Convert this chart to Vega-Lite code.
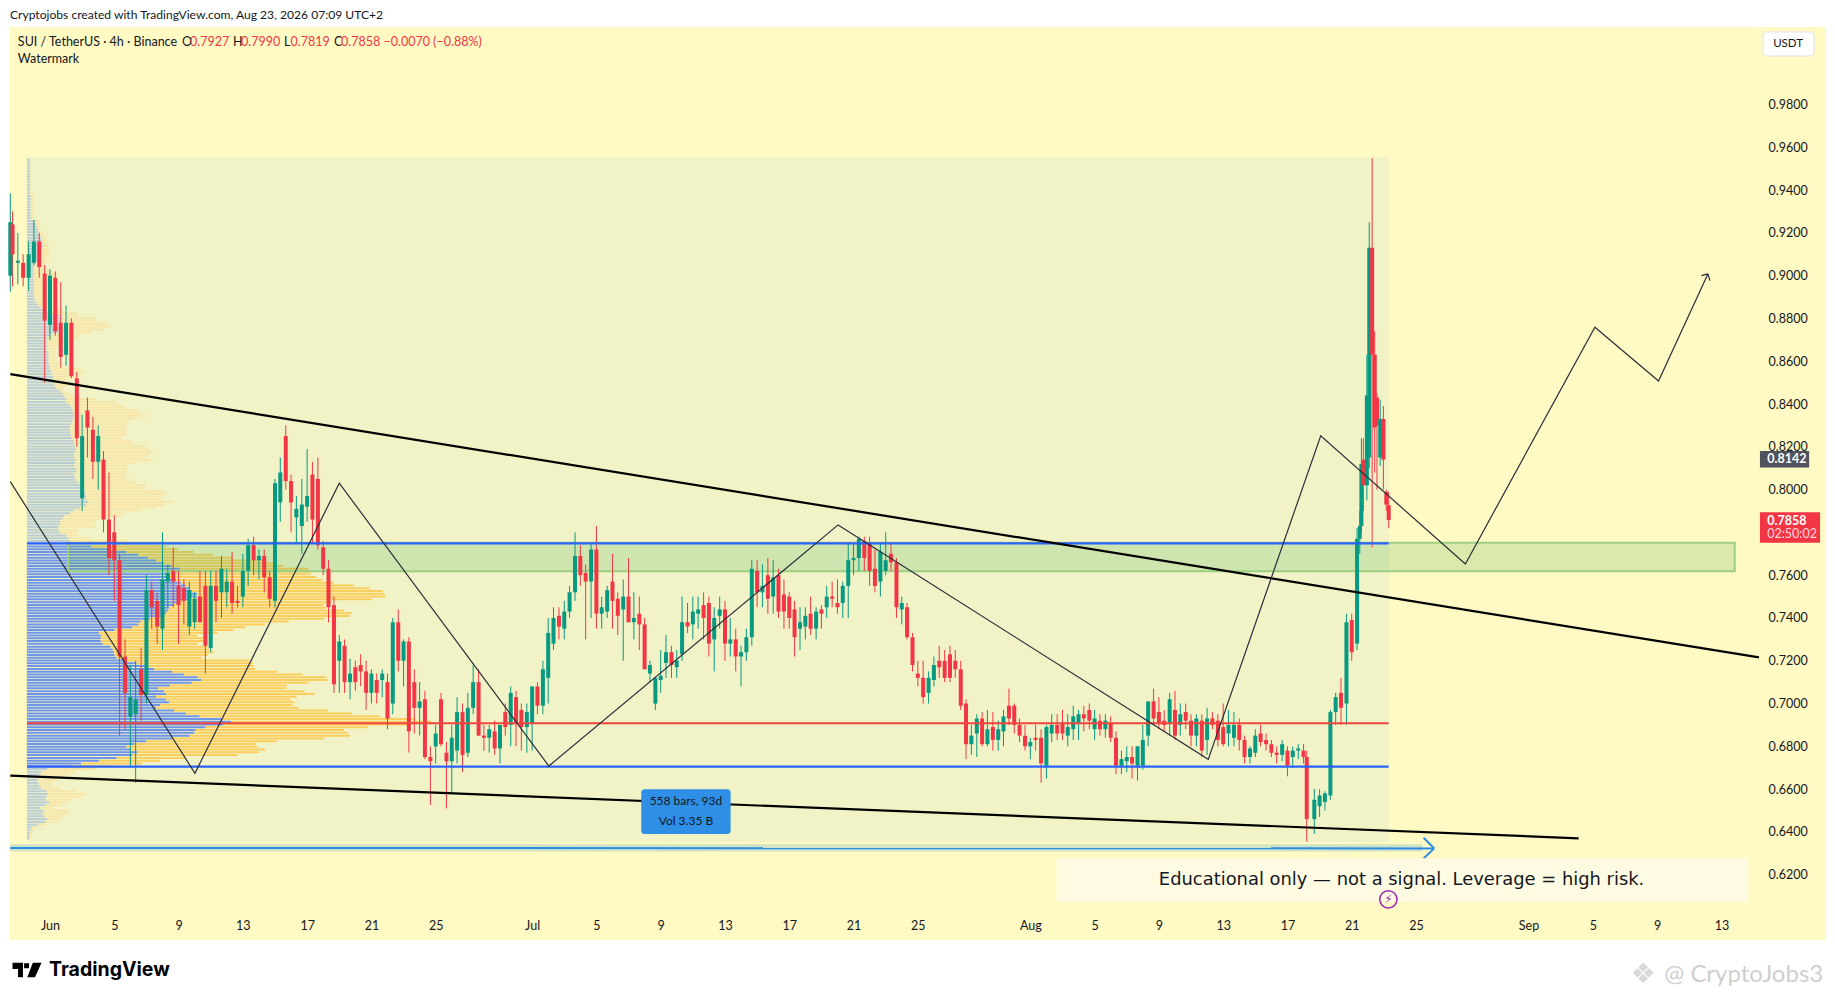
{
"$schema":"https://vega.github.io/schema/vega-lite/v6.json",
"width":1835,"height":1000,"padding":0,"autosize":{"type":"none"},"background":"#ffffff",
"config":{"view":{"stroke":null},"text":{"font":"Lato"}},
"datasets":{
"candles":[
{"d":-2.47,"o":0.9,"h":0.9385,"l":0.8925,"c":0.925},{"d":-2.33,"o":0.924,"h":0.93,"l":0.895,"c":0.91},{"d":-2,"o":0.906,"h":0.92,"l":0.896,"c":0.907},{"d":-1.67,"o":0.906,"h":0.91,"l":0.895,"c":0.899},{"d":-1.33,"o":0.899,"h":0.916,"l":0.893,"c":0.91},{"d":-1,"o":0.906,"h":0.926,"l":0.905,"c":0.916},{"d":-0.67,"o":0.916,"h":0.92,"l":0.899,"c":0.904},{"d":-0.33,"o":0.901,"h":0.905,"l":0.85,"c":0.879},{"d":0,"o":0.877,"h":0.903,"l":0.87,"c":0.9},{"d":0.33,"o":0.899,"h":0.902,"l":0.872,"c":0.874},{"d":0.67,"o":0.878,"h":0.897,"l":0.857,"c":0.862},{"d":1,"o":0.863,"h":0.886,"l":0.858,"c":0.878},{"d":1.33,"o":0.878,"h":0.88,"l":0.852,"c":0.853},{"d":1.67,"o":0.852,"h":0.855,"l":0.82,"c":0.824},
{"d":2,"o":0.796,"h":0.835,"l":0.79,"c":0.825},{"d":2.33,"o":0.837,"h":0.843,"l":0.815,"c":0.829},{"d":2.67,"o":0.828,"h":0.834,"l":0.805,"c":0.813},{"d":3,"o":0.813,"h":0.83,"l":0.8,"c":0.825},{"d":3.33,"o":0.814,"h":0.818,"l":0.78,"c":0.786},{"d":3.67,"o":0.786,"h":0.808,"l":0.76,"c":0.768},{"d":4,"o":0.78,"h":0.788,"l":0.748,"c":0.767},{"d":4.33,"o":0.767,"h":0.77,"l":0.685,"c":0.722},{"d":4.67,"o":0.722,"h":0.73,"l":0.688,"c":0.705},{"d":5,"o":0.694,"h":0.718,"l":0.67,"c":0.703},{"d":5.33,"o":0.695,"h":0.72,"l":0.663,"c":0.702},{"d":5.67,"o":0.716,"h":0.726,"l":0.692,"c":0.704},{"d":6,"o":0.704,"h":0.76,"l":0.7,"c":0.753},{"d":6.33,"o":0.753,"h":0.757,"l":0.735,"c":0.745},{"d":6.67,"o":0.748,"h":0.752,"l":0.728,"c":0.736},{"d":7,"o":0.735,"h":0.78,"l":0.725,"c":0.758},{"d":7.33,"o":0.757,"h":0.765,"l":0.745,"c":0.761},{"d":7.67,"o":0.762,"h":0.773,"l":0.745,"c":0.757},{"d":8,"o":0.755,"h":0.762,"l":0.728,"c":0.746},{"d":8.33,"o":0.754,"h":0.758,"l":0.737,"c":0.748},{"d":8.67,"o":0.736,"h":0.757,"l":0.732,"c":0.753},{"d":9,"o":0.738,"h":0.752,"l":0.735,"c":0.749},{"d":9.33,"o":0.75,"h":0.762,"l":0.738,"c":0.738},{"d":9.67,"o":0.755,"h":0.762,"l":0.714,"c":0.727},{"d":10,"o":0.726,"h":0.762,"l":0.724,"c":0.755},{"d":10.33,"o":0.755,"h":0.762,"l":0.738,"c":0.748},{"d":10.67,"o":0.752,"h":0.769,"l":0.74,"c":0.763},{"d":11,"o":0.752,"h":0.763,"l":0.745,"c":0.757},{"d":11.33,"o":0.757,"h":0.771,"l":0.742,"c":0.747},{"d":11.67,"o":0.748,"h":0.755,"l":0.745,"c":0.747},{"d":12,"o":0.75,"h":0.77,"l":0.745,"c":0.762},{"d":12.33,"o":0.762,"h":0.777,"l":0.755,"c":0.774},{"d":12.67,"o":0.774,"h":0.778,"l":0.76,"c":0.767},{"d":13,"o":0.767,"h":0.772,"l":0.758,"c":0.769},{"d":13.33,"o":0.769,"h":0.772,"l":0.752,"c":0.759},{"d":13.67,"o":0.759,"h":0.762,"l":0.745,"c":0.749},{"d":14,"o":0.748,"h":0.805,"l":0.745,"c":0.803},{"d":14.33,"o":0.794,"h":0.815,"l":0.785,"c":0.808},{"d":14.67,"o":0.825,"h":0.83,"l":0.8,"c":0.804},{"d":15,"o":0.804,"h":0.807,"l":0.78,"c":0.794},{"d":15.33,"o":0.787,"h":0.797,"l":0.775,"c":0.791},{"d":15.67,"o":0.783,"h":0.805,"l":0.77,"c":0.793},{"d":16,"o":0.792,"h":0.819,"l":0.785,"c":0.797},{"d":16.33,"o":0.807,"h":0.813,"l":0.775,"c":0.786},{"d":16.67,"o":0.805,"h":0.815,"l":0.772,"c":0.774},{"d":17,"o":0.773,"h":0.776,"l":0.76,"c":0.763},{"d":17.33,"o":0.763,"h":0.767,"l":0.738,"c":0.745},{"d":17.67,"o":0.746,"h":0.75,"l":0.705,"c":0.709},{"d":18,"o":0.72,"h":0.732,"l":0.705,"c":0.729},{"d":18.33,"o":0.727,"h":0.73,"l":0.705,"c":0.71},{"d":18.67,"o":0.71,"h":0.721,"l":0.702,"c":0.714},{"d":19,"o":0.717,"h":0.72,"l":0.706,"c":0.71},{"d":19.33,"o":0.718,"h":0.723,"l":0.708,"c":0.715},{"d":19.67,"o":0.715,"h":0.72,"l":0.697,"c":0.705},{"d":20,"o":0.705,"h":0.716,"l":0.7,"c":0.714},{"d":20.33,"o":0.711,"h":0.714,"l":0.7,"c":0.705},{"d":20.67,"o":0.711,"h":0.716,"l":0.703,"c":0.714},{"d":21,"o":0.71,"h":0.714,"l":0.688,"c":0.693},{"d":21.33,"o":0.7,"h":0.74,"l":0.695,"c":0.738},{"d":21.67,"o":0.738,"h":0.744,"l":0.715,"c":0.72},{"d":22,"o":0.72,"h":0.73,"l":0.708,"c":0.729},{"d":22.33,"o":0.729,"h":0.731,"l":0.677,"c":0.687},{"d":22.67,"o":0.71,"h":0.716,"l":0.686,"c":0.698},{"d":23,"o":0.698,"h":0.71,"l":0.685,"c":0.701},{"d":23.33,"o":0.702,"h":0.706,"l":0.674,"c":0.675},{"d":23.67,"o":0.675,"h":0.68,"l":0.6526,"c":0.673},{"d":24,"o":0.68,"h":0.69,"l":0.672,"c":0.686},{"d":24.33,"o":0.702,"h":0.705,"l":0.68,"c":0.681},{"d":24.67,"o":0.677,"h":0.682,"l":0.651,"c":0.673},{"d":25,"o":0.673,"h":0.69,"l":0.658,"c":0.684},{"d":25.33,"o":0.678,"h":0.703,"l":0.672,"c":0.696},{"d":25.67,"o":0.696,"h":0.7,"l":0.668,"c":0.676},{"d":26,"o":0.677,"h":0.705,"l":0.675,"c":0.698},{"d":26.33,"o":0.698,"h":0.718,"l":0.695,"c":0.71},{"d":26.67,"o":0.71,"h":0.716,"l":0.685,"c":0.685},{"d":27,"o":0.685,"h":0.69,"l":0.678,"c":0.684},{"d":27.33,"o":0.684,"h":0.69,"l":0.677,"c":0.688},{"d":27.67,"o":0.687,"h":0.692,"l":0.676,"c":0.679},{"d":28,"o":0.679,"h":0.69,"l":0.672,"c":0.69},{"d":28.33,"o":0.696,"h":0.7,"l":0.685,"c":0.689},{"d":28.67,"o":0.69,"h":0.708,"l":0.68,"c":0.705},{"d":29,"o":0.703,"h":0.706,"l":0.68,"c":0.691},{"d":29.33,"o":0.697,"h":0.7,"l":0.678,"c":0.689},{"d":29.67,"o":0.689,"h":0.7,"l":0.677,"c":0.696},{"d":30,"o":0.691,"h":0.708,"l":0.678,"c":0.708},{"d":30.33,"o":0.708,"h":0.71,"l":0.695,"c":0.699},{"d":30.67,"o":0.699,"h":0.72,"l":0.695,"c":0.716},{"d":31,"o":0.712,"h":0.74,"l":0.7,"c":0.733},{"d":31.33,"o":0.728,"h":0.745,"l":0.725,"c":0.74},{"d":31.67,"o":0.741,"h":0.745,"l":0.73,"c":0.736},{"d":32,"o":0.735,"h":0.748,"l":0.73,"c":0.743},{"d":32.33,"o":0.743,"h":0.755,"l":0.74,"c":0.752},{"d":32.67,"o":0.752,"h":0.78,"l":0.748,"c":0.769},{"d":33,"o":0.769,"h":0.774,"l":0.755,"c":0.76},{"d":33.33,"o":0.761,"h":0.765,"l":0.73,"c":0.757},{"d":33.67,"o":0.757,"h":0.775,"l":0.74,"c":0.772},{"d":34,"o":0.772,"h":0.783,"l":0.735,"c":0.742},{"d":34.33,"o":0.742,"h":0.75,"l":0.735,"c":0.745},{"d":34.67,"o":0.743,"h":0.755,"l":0.74,"c":0.753},{"d":35,"o":0.757,"h":0.77,"l":0.735,"c":0.748},{"d":35.33,"o":0.749,"h":0.752,"l":0.732,"c":0.741},
{"d":35.67,"o":0.744,"h":0.758,"l":0.72,"c":0.75},{"d":36,"o":0.75,"h":0.768,"l":0.738,"c":0.738},{"d":36.33,"o":0.738,"h":0.752,"l":0.73,"c":0.74},{"d":36.67,"o":0.742,"h":0.75,"l":0.725,"c":0.737},{"d":37,"o":0.737,"h":0.74,"l":0.716,"c":0.716},{"d":37.33,"o":0.714,"h":0.72,"l":0.71,"c":0.718},{"d":37.67,"o":0.7,"h":0.712,"l":0.697,"c":0.712},{"d":38,"o":0.711,"h":0.725,"l":0.705,"c":0.713},{"d":38.33,"o":0.719,"h":0.732,"l":0.712,"c":0.724},{"d":38.67,"o":0.724,"h":0.727,"l":0.712,"c":0.718},{"d":39,"o":0.717,"h":0.725,"l":0.712,"c":0.72},{"d":39.33,"o":0.723,"h":0.75,"l":0.72,"c":0.738},{"d":39.67,"o":0.738,"h":0.747,"l":0.733,"c":0.736},{"d":40,"o":0.737,"h":0.75,"l":0.73,"c":0.743},{"d":40.33,"o":0.742,"h":0.75,"l":0.735,"c":0.744},{"d":40.67,"o":0.746,"h":0.752,"l":0.73,"c":0.74},{"d":41,"o":0.747,"h":0.75,"l":0.722,"c":0.728},{"d":41.33,"o":0.73,"h":0.745,"l":0.715,"c":0.74},{"d":41.67,"o":0.741,"h":0.75,"l":0.735,"c":0.744},{"d":42,"o":0.744,"h":0.748,"l":0.72,"c":0.728},{"d":42.33,"o":0.728,"h":0.74,"l":0.722,"c":0.73},{"d":42.67,"o":0.73,"h":0.735,"l":0.715,"c":0.722},{"d":43,"o":0.722,"h":0.727,"l":0.708,"c":0.724},{"d":43.33,"o":0.724,"h":0.735,"l":0.72,"c":0.731},{"d":43.67,"o":0.731,"h":0.767,"l":0.727,"c":0.763},{"d":44,"o":0.762,"h":0.767,"l":0.745,"c":0.752},{"d":44.33,"o":0.752,"h":0.765,"l":0.745,"c":0.755},{"d":44.67,"o":0.76,"h":0.768,"l":0.742,"c":0.749},{"d":45,"o":0.75,"h":0.767,"l":0.742,"c":0.759},{"d":45.33,"o":0.76,"h":0.763,"l":0.74,"c":0.743},{"d":45.67,"o":0.751,"h":0.758,"l":0.735,"c":0.743},{"d":46,"o":0.75,"h":0.752,"l":0.735,"c":0.74},{"d":46.33,"o":0.744,"h":0.748,"l":0.722,"c":0.731},{"d":46.67,"o":0.735,"h":0.745,"l":0.725,"c":0.738},{"d":47,"o":0.736,"h":0.745,"l":0.73,"c":0.741},{"d":47.33,"o":0.742,"h":0.75,"l":0.732,"c":0.735},{"d":47.67,"o":0.735,"h":0.745,"l":0.73,"c":0.743},{"d":48,"o":0.744,"h":0.746,"l":0.735,"c":0.742},{"d":48.33,"o":0.745,"h":0.755,"l":0.74,"c":0.75},{"d":48.67,"o":0.75,"h":0.757,"l":0.745,"c":0.749},{"d":49,"o":0.747,"h":0.758,"l":0.742,"c":0.745},{"d":49.33,"o":0.747,"h":0.757,"l":0.74,"c":0.755},{"d":49.67,"o":0.755,"h":0.775,"l":0.74,"c":0.767},{"d":50,"o":0.767,"h":0.775,"l":0.76,"c":0.768},{"d":50.33,"o":0.768,"h":0.778,"l":0.762,"c":0.777},{"d":50.67,"o":0.776,"h":0.778,"l":0.762,"c":0.768},{"d":51,"o":0.775,"h":0.778,"l":0.755,"c":0.762},{"d":51.33,"o":0.763,"h":0.772,"l":0.752,"c":0.755},{"d":51.67,"o":0.757,"h":0.775,"l":0.75,"c":0.771},{"d":52,"o":0.762,"h":0.78,"l":0.76,"c":0.767},{"d":52.33,"o":0.77,"h":0.775,"l":0.762,"c":0.766},{"d":52.67,"o":0.766,"h":0.768,"l":0.74,"c":0.745},{"d":53,"o":0.744,"h":0.75,"l":0.737,"c":0.747},{"d":53.33,"o":0.745,"h":0.747,"l":0.73,"c":0.731},{"d":53.67,"o":0.731,"h":0.733,"l":0.715,"c":0.718},{"d":54,"o":0.714,"h":0.72,"l":0.708,"c":0.712},{"d":54.33,"o":0.712,"h":0.72,"l":0.7,"c":0.703},{"d":54.67,"o":0.705,"h":0.715,"l":0.7,"c":0.712},{"d":55,"o":0.711,"h":0.722,"l":0.708,"c":0.718},{"d":55.33,"o":0.72,"h":0.727,"l":0.712,"c":0.717},{"d":55.67,"o":0.72,"h":0.725,"l":0.71,"c":0.712},{"d":56,"o":0.723,"h":0.727,"l":0.71,"c":0.712},{"d":56.33,"o":0.72,"h":0.725,"l":0.712,"c":0.716},{"d":56.67,"o":0.716,"h":0.72,"l":0.697,"c":0.699},{"d":57,"o":0.7,"h":0.702,"l":0.674,"c":0.681},{"d":57.33,"o":0.681,"h":0.69,"l":0.676,"c":0.685},{"d":57.67,"o":0.686,"h":0.695,"l":0.675,"c":0.693},{"d":58,"o":0.693,"h":0.696,"l":0.68,"c":0.681},{"d":58.33,"o":0.681,"h":0.697,"l":0.68,"c":0.688},{"d":58.67,"o":0.689,"h":0.696,"l":0.678,"c":0.683},{"d":59,"o":0.683,"h":0.692,"l":0.678,"c":0.688},{"d":59.33,"o":0.687,"h":0.697,"l":0.68,"c":0.694},{"d":59.67,"o":0.699,"h":0.707,"l":0.69,"c":0.693},{"d":60,"o":0.699,"h":0.7,"l":0.686,"c":0.69},{"d":60.33,"o":0.69,"h":0.693,"l":0.682,"c":0.685},{"d":60.67,"o":0.685,"h":0.69,"l":0.678,"c":0.68},{"d":61,"o":0.68,"h":0.684,"l":0.674,"c":0.682},{"d":61.33,"o":0.684,"h":0.69,"l":0.678,"c":0.683},{"d":61.67,"o":0.684,"h":0.688,"l":0.663,"c":0.672},{"d":62,"o":0.671,"h":0.69,"l":0.665,"c":0.689},{"d":62.33,"o":0.686,"h":0.695,"l":0.682,"c":0.69},{"d":62.67,"o":0.69,"h":0.695,"l":0.683,"c":0.686},{"d":63,"o":0.691,"h":0.697,"l":0.683,"c":0.686},{"d":63.33,"o":0.685,"h":0.695,"l":0.68,"c":0.689},{"d":63.67,"o":0.688,"h":0.699,"l":0.683,"c":0.694},{"d":64,"o":0.691,"h":0.697,"l":0.683,"c":0.695},{"d":64.33,"o":0.695,"h":0.699,"l":0.687,"c":0.693},{"d":64.67,"o":0.697,"h":0.7,"l":0.688,"c":0.692},{"d":65,"o":0.688,"h":0.697,"l":0.683,"c":0.693},{"d":65.33,"o":0.692,"h":0.695,"l":0.685,"c":0.688},{"d":65.67,"o":0.688,"h":0.695,"l":0.684,"c":0.692},{"d":66,"o":0.691,"h":0.694,"l":0.682,"c":0.684},{"d":66.33,"o":0.684,"h":0.687,"l":0.667,"c":0.671},{"d":66.67,"o":0.671,"h":0.678,"l":0.667,"c":0.674},{"d":67,"o":0.673,"h":0.68,"l":0.668,"c":0.675},{"d":67.33,"o":0.675,"h":0.68,"l":0.665,"c":0.672},{"d":67.67,"o":0.671,"h":0.68,"l":0.664,"c":0.68},{"d":68,"o":0.671,"h":0.69,"l":0.669,"c":0.683},{"d":68.33,"o":0.685,"h":0.7,"l":0.68,"c":0.701},{"d":68.67,"o":0.701,"h":0.707,"l":0.69,"c":0.693},{"d":69,"o":0.696,"h":0.703,"l":0.688,"c":0.691},{"d":69.33,"o":0.692,"h":0.697,"l":0.687,"c":0.69},{"d":69.67,"o":0.691,"h":0.705,"l":0.685,"c":0.702},{"d":70,"o":0.697,"h":0.706,"l":0.683,"c":0.685},{"d":70.33,"o":0.69,"h":0.7,"l":0.685,"c":0.695},{"d":70.67,"o":0.696,"h":0.7,"l":0.688,"c":0.692},{"d":71,"o":0.692,"h":0.695,"l":0.68,"c":0.685},{"d":71.33,"o":0.685,"h":0.695,"l":0.68,"c":0.693},{"d":71.67,"o":0.692,"h":0.695,"l":0.675,"c":0.678},{"d":72,"o":0.683,"h":0.698,"l":0.676,"c":0.693},{"d":72.33,"o":0.693,"h":0.696,"l":0.688,"c":0.69},{"d":72.67,"o":0.692,"h":0.695,"l":0.68,"c":0.683},
{"d":73,"o":0.689,"h":0.7,"l":0.68,"c":0.681},{"d":73.33,"o":0.686,"h":0.697,"l":0.68,"c":0.69},{"d":73.67,"o":0.684,"h":0.696,"l":0.68,"c":0.69},{"d":74,"o":0.69,"h":0.693,"l":0.678,"c":0.683},{"d":74.33,"o":0.683,"h":0.685,"l":0.672,"c":0.675},{"d":74.67,"o":0.675,"h":0.68,"l":0.672,"c":0.679},{"d":75,"o":0.677,"h":0.688,"l":0.675,"c":0.685},{"d":75.33,"o":0.686,"h":0.69,"l":0.68,"c":0.682},{"d":75.67,"o":0.683,"h":0.686,"l":0.678,"c":0.681},{"d":76,"o":0.681,"h":0.683,"l":0.675,"c":0.677},{"d":76.33,"o":0.677,"h":0.68,"l":0.672,"c":0.676},{"d":76.67,"o":0.676,"h":0.683,"l":0.673,"c":0.681},{"d":77,"o":0.678,"h":0.68,"l":0.666,"c":0.671},{"d":77.33,"o":0.675,"h":0.68,"l":0.67,"c":0.678},{"d":77.67,"o":0.678,"h":0.681,"l":0.674,"c":0.679},{"d":78,"o":0.678,"h":0.681,"l":0.672,"c":0.675},{"d":78.2,"o":0.675,"h":0.678,"l":0.6355,"c":0.646},{"d":78.67,"o":0.646,"h":0.66,"l":0.639,"c":0.655},{"d":79,"o":0.652,"h":0.66,"l":0.647,"c":0.657},{"d":79.33,"o":0.654,"h":0.659,"l":0.65,"c":0.658},{"d":79.67,"o":0.657,"h":0.697,"l":0.655,"c":0.696},{"d":80,"o":0.696,"h":0.705,"l":0.69,"c":0.703},{"d":80.33,"o":0.705,"h":0.712,"l":0.69,"c":0.698},{"d":80.67,"o":0.7,"h":0.742,"l":0.69,"c":0.738},{"d":81,"o":0.739,"h":0.742,"l":0.72,"c":0.724},{"d":81.33,"o":0.728,"h":0.782,"l":0.725,"c":0.777},{"d":81.5,"o":0.777,"h":0.79,"l":0.77,"c":0.783},{"d":81.6,"o":0.783,"h":0.824,"l":0.78,"c":0.812},{"d":81.72,"o":0.814,"h":0.824,"l":0.79,"c":0.802},{"d":81.94,"o":0.802,"h":0.863,"l":0.795,"c":0.844},{"d":82.09,"o":0.815,"h":0.925,"l":0.81,"c":0.913},{"d":82.27,"o":0.913,"h":0.955,"l":0.773,"c":0.863},{"d":82.43,"o":0.863,"h":0.874,"l":0.808,"c":0.829},{"d":82.57,"o":0.843,"h":0.845,"l":0.8,"c":0.83},{"d":82.77,"o":0.815,"h":0.842,"l":0.811,"c":0.833},{"d":82.97,"o":0.833,"h":0.839,"l":0.8,"c":0.814},{"d":83.15,"o":0.799,"h":0.8,"l":0.79,"c":0.793},{"d":83.3,"o":0.7927,"h":0.799,"l":0.7819,"c":0.7858}
],
"volume":[
{"p":0.9541,"b":8,"o":8},{"p":0.9528,"b":8,"o":8},{"p":0.9515,"b":8,"o":9},{"p":0.9502,"b":8,"o":9},{"p":0.9489,"b":8,"o":9},{"p":0.9476,"b":8,"o":9},{"p":0.9463,"b":8,"o":9},{"p":0.945,"b":8,"o":9},{"p":0.9437,"b":8,"o":9},{"p":0.9424,"b":8,"o":9},{"p":0.9411,"b":8,"o":10},{"p":0.9398,"b":8,"o":10},{"p":0.9385,"b":8,"o":14},{"p":0.9372,"b":10,"o":17},{"p":0.9359,"b":10,"o":17},{"p":0.9346,"b":10,"o":17},{"p":0.9333,"b":10,"o":16},{"p":0.932,"b":10,"o":17},{"p":0.9307,"b":10,"o":17},{"p":0.9294,"b":10,"o":17},{"p":0.9281,"b":10,"o":16},{"p":0.9268,"b":10,"o":17},{"p":0.9255,"b":22,"o":32},{"p":0.9242,"b":22,"o":32},{"p":0.9229,"b":26,"o":34},{"p":0.9216,"b":28,"o":32},{"p":0.9203,"b":30,"o":40},{"p":0.919,"b":32,"o":44},{"p":0.9177,"b":36,"o":50},{"p":0.9164,"b":38,"o":50},{"p":0.9151,"b":40,"o":52},{"p":0.9138,"b":42,"o":58},{"p":0.9125,"b":36,"o":60},{"p":0.9112,"b":34,"o":58},{"p":0.9099,"b":34,"o":56},{"p":0.9086,"b":30,"o":52},{"p":0.9073,"b":26,"o":56},{"p":0.906,"b":22,"o":50},{"p":0.9047,"b":20,"o":46},{"p":0.9034,"b":18,"o":50},{"p":0.9021,"b":17,"o":62},{"p":0.9008,"b":18,"o":78},{"p":0.8995,"b":17,"o":70},{"p":0.8982,"b":18,"o":60},{"p":0.8969,"b":17,"o":55},{"p":0.8956,"b":18,"o":60},{"p":0.8943,"b":17,"o":52},{"p":0.893,"b":18,"o":50},{"p":0.8917,"b":17,"o":52},{"p":0.8904,"b":18,"o":58},{"p":0.8891,"b":20,"o":52},{"p":0.8878,"b":22,"o":55},{"p":0.8865,"b":28,"o":58},{"p":0.8852,"b":35,"o":60},{"p":0.8839,"b":40,"o":90},{"p":0.8826,"b":60,"o":125},{"p":0.8813,"b":85,"o":130},{"p":0.88,"b":90,"o":175},{"p":0.8787,"b":85,"o":180},{"p":0.8774,"b":90,"o":205},{"p":0.8761,"b":85,"o":210},{"p":0.8748,"b":85,"o":195},{"p":0.8735,"b":80,"o":165},{"p":0.8722,"b":60,"o":135},{"p":0.8709,"b":52,"o":130},{"p":0.8696,"b":52,"o":110},{"p":0.8683,"b":50,"o":90},{"p":0.867,"b":52,"o":80},{"p":0.8657,"b":50,"o":72},{"p":0.8644,"b":55,"o":70},{"p":0.8631,"b":55,"o":72},{"p":0.8618,"b":55,"o":75},{"p":0.8605,"b":55,"o":72},{"p":0.8592,"b":55,"o":80},{"p":0.8579,"b":58,"o":85},{"p":0.8566,"b":58,"o":135},{"p":0.8553,"b":62,"o":145},{"p":0.854,"b":62,"o":140},{"p":0.8527,"b":66,"o":130},{"p":0.8514,"b":66,"o":100},{"p":0.8501,"b":68,"o":105},{"p":0.8488,"b":70,"o":100},{"p":0.8475,"b":75,"o":92},{"p":0.8462,"b":85,"o":95},{"p":0.8449,"b":90,"o":110},{"p":0.8436,"b":95,"o":130},{"p":0.8423,"b":100,"o":175},{"p":0.841,"b":100,"o":225},{"p":0.8397,"b":108,"o":240},{"p":0.8384,"b":112,"o":250},{"p":0.8371,"b":116,"o":280},{"p":0.8358,"b":118,"o":290},{"p":0.8345,"b":118,"o":305},{"p":0.8332,"b":118,"o":280},{"p":0.8319,"b":115,"o":260},{"p":0.8306,"b":112,"o":255},{"p":0.8293,"b":110,"o":250},{"p":0.828,"b":108,"o":255},
{"p":0.8267,"b":110,"o":248},{"p":0.8254,"b":112,"o":255},{"p":0.8241,"b":115,"o":240},{"p":0.8228,"b":118,"o":265},{"p":0.8215,"b":120,"o":270},{"p":0.8202,"b":122,"o":300},{"p":0.8189,"b":125,"o":310},{"p":0.8176,"b":122,"o":320},{"p":0.8163,"b":120,"o":312},{"p":0.815,"b":120,"o":300},{"p":0.8137,"b":125,"o":320},{"p":0.8124,"b":122,"o":275},{"p":0.8111,"b":120,"o":255},{"p":0.8098,"b":125,"o":252},{"p":0.8085,"b":125,"o":255},{"p":0.8072,"b":120,"o":248},{"p":0.8059,"b":122,"o":250},{"p":0.8046,"b":125,"o":262},{"p":0.8033,"b":130,"o":275},{"p":0.802,"b":135,"o":300},{"p":0.8007,"b":140,"o":300},{"p":0.7994,"b":145,"o":345},{"p":0.7981,"b":148,"o":355},{"p":0.7968,"b":150,"o":340},{"p":0.7955,"b":150,"o":345},{"p":0.7942,"b":155,"o":370},{"p":0.7929,"b":150,"o":350},{"p":0.7916,"b":135,"o":325},{"p":0.7903,"b":120,"o":290},{"p":0.789,"b":110,"o":250},{"p":0.7877,"b":95,"o":240},{"p":0.7864,"b":90,"o":190},{"p":0.7851,"b":85,"o":175},{"p":0.7838,"b":85,"o":170},{"p":0.7825,"b":80,"o":175},{"p":0.7812,"b":80,"o":130},{"p":0.7799,"b":85,"o":125},{"p":0.7786,"b":100,"o":130},{"p":0.7773,"b":105,"o":160},{"p":0.776,"b":108,"o":255},{"p":0.7747,"b":108,"o":320},
{"p":0.7734,"b":162,"o":352},{"p":0.7721,"b":212,"o":382},{"p":0.7708,"b":252,"o":422},{"p":0.7695,"b":282,"o":472},{"p":0.7682,"b":307,"o":522},{"p":0.7669,"b":327,"o":602},{"p":0.7656,"b":347,"o":632},{"p":0.7643,"b":367,"o":647},{"p":0.763,"b":387,"o":712},{"p":0.7617,"b":387,"o":722},{"p":0.7604,"b":362,"o":717},{"p":0.7591,"b":362,"o":732},{"p":0.7578,"b":377,"o":747},{"p":0.7565,"b":390,"o":777},{"p":0.7552,"b":402,"o":827},{"p":0.7539,"b":410,"o":867},{"p":0.7526,"b":417,"o":900},{"p":0.7513,"b":430,"o":904},{"p":0.75,"b":430,"o":907},{"p":0.7487,"b":412,"o":872},{"p":0.7474,"b":387,"o":772},{"p":0.7461,"b":372,"o":750},{"p":0.7448,"b":360,"o":757},{"p":0.7435,"b":357,"o":802},{"p":0.7422,"b":352,"o":822},{"p":0.7409,"b":347,"o":817},{"p":0.7396,"b":312,"o":752},{"p":0.7383,"b":287,"o":662},{"p":0.737,"b":282,"o":602},{"p":0.7357,"b":267,"o":552},{"p":0.7344,"b":222,"o":522},{"p":0.7331,"b":182,"o":482},{"p":0.7318,"b":187,"o":432},{"p":0.7305,"b":187,"o":447},{"p":0.7292,"b":187,"o":452},{"p":0.7279,"b":192,"o":432},{"p":0.7266,"b":212,"o":457},{"p":0.7253,"b":217,"o":462},{"p":0.724,"b":220,"o":472},{"p":0.7227,"b":222,"o":457},{"p":0.7214,"b":227,"o":442},{"p":0.7201,"b":247,"o":562},{"p":0.7188,"b":277,"o":572},{"p":0.7175,"b":307,"o":572},{"p":0.7162,"b":322,"o":577},{"p":0.7149,"b":367,"o":632},{"p":0.7136,"b":397,"o":697},{"p":0.7123,"b":432,"o":757},{"p":0.711,"b":442,"o":762},{"p":0.7097,"b":417,"o":712},{"p":0.7084,"b":362,"o":657},{"p":0.7071,"b":332,"o":657},{"p":0.7058,"b":347,"o":702},{"p":0.7045,"b":352,"o":727},{"p":0.7032,"b":327,"o":682},{"p":0.7019,"b":352,"o":667},{"p":0.7006,"b":360,"o":677},{"p":0.6993,"b":337,"o":672},{"p":0.698,"b":327,"o":687},{"p":0.6967,"b":372,"o":762},{"p":0.6954,"b":402,"o":822},{"p":0.6941,"b":437,"o":892},{"p":0.6928,"b":492,"o":982},{"p":0.6915,"b":517,"o":1022},{"p":0.6902,"b":497,"o":962},{"p":0.6889,"b":452,"o":862},{"p":0.6876,"b":427,"o":802},{"p":0.6863,"b":424,"o":812},{"p":0.685,"b":412,"o":817},{"p":0.6837,"b":367,"o":752},{"p":0.6824,"b":302,"o":632},{"p":0.6811,"b":272,"o":577},{"p":0.6798,"b":252,"o":582},{"p":0.6785,"b":262,"o":602},{"p":0.6772,"b":280,"o":587},{"p":0.6759,"b":267,"o":532},{"p":0.6746,"b":227,"o":402},{"p":0.6733,"b":182,"o":337},{"p":0.672,"b":137,"o":292},{"p":0.6707,"b":112,"o":232},
{"p":0.6694,"b":52,"o":172},{"p":0.6681,"b":37,"o":122},{"p":0.6668,"b":32,"o":110},{"p":0.6655,"b":29,"o":97},{"p":0.6642,"b":27,"o":77},{"p":0.6629,"b":30,"o":64},{"p":0.6616,"b":32,"o":64},{"p":0.6603,"b":37,"o":82},{"p":0.659,"b":50,"o":122},{"p":0.6577,"b":54,"o":149},{"p":0.6564,"b":50,"o":137},{"p":0.6551,"b":48,"o":117},{"p":0.6538,"b":57,"o":104},{"p":0.6525,"b":47,"o":87},{"p":0.6512,"b":34,"o":67},{"p":0.6499,"b":44,"o":102},{"p":0.6486,"b":40,"o":107},{"p":0.6473,"b":44,"o":94},{"p":0.646,"b":52,"o":87},{"p":0.6447,"b":47,"o":72},{"p":0.6434,"b":27,"o":47},{"p":0.6421,"b":12,"o":22},{"p":0.6408,"b":10,"o":17},{"p":0.6395,"b":8,"o":14},{"p":0.6382,"b":7,"o":12},{"p":0.6369,"b":6,"o":10}
]},
"resolve":{"scale":{"x":"independent"},"axis":{"y":"independent"}},
"encoding":{
"x":{"field":"d","type":"quantitative","axis":null,"scale":{"domain":[-3.111,111.07],"nice":false,"zero":false,"padding":0}},
"y":{"field":"p","type":"quantitative","axis":null,"scale":{"domain":[0.56143,1.02885],"nice":false,"zero":false}}
},
"layer":[
{"layer":[
{"data":{"values":[{"d":-2.52,"d2":110.5,"p":1.01623,"p2":0.58947}]},"mark":{"type":"rect","fill":"#FFF9C4"},"encoding":{"x2":{"field":"d2"},"y2":{"field":"p2"}}},
{"data":{"values":[{"d":-1.43,"d2":83.3,"p":0.9556,"p2":0.6353}]},"mark":{"type":"rect","fill":"#F1F3C7"},"encoding":{"x2":{"field":"d2"},"y2":{"field":"p2"}}},
{"data":{"values":[{"d":-2.47,"d2":85.4,"p":0.6342,"p2":0.6308}]},"mark":{"type":"rect","fill":"#CFE4C4"},"encoding":{"x2":{"field":"d2"},"y2":{"field":"p2"}}}
]},
{"data":{"name":"volume"},
"encoding":{"x":{"field":"b","type":"quantitative","axis":null,"scale":{"domain":[-68,4572.7],"nice":false,"zero":false}}},
"layer":[
{"mark":{"type":"rule","strokeWidth":2},"encoding":{"x2":{"datum":0},"color":{"condition":{"test":"datum.p<0.7745&&datum.p>0.6705","value":"#6F95E8"},"value":"#BBCED4"}}},
{"mark":{"type":"rule","strokeWidth":2},"encoding":{"x2":{"field":"o"},"color":{"condition":{"test":"datum.p<0.7745&&datum.p>0.6705","value":"#FBCD5C"},"value":"#F8E6A8"}}}
]},
{"layer":[
{"data":{"values":[{"d":1.12,"d2":104.83,"p":0.7752,"p2":0.7618}]},"mark":{"type":"rect","fill":"#4CAF50","fillOpacity":0.2,"stroke":"#9CD080","strokeWidth":2},"encoding":{"x2":{"field":"d2"},"y2":{"field":"p2"}}},
{"data":{"name":"candles"},"mark":{"type":"rule","strokeWidth":1},"encoding":{"y":{"field":"h","type":"quantitative","axis":null},"y2":{"field":"l"},"color":{"condition":{"test":"datum.c>=datum.o","value":"#089981"},"value":"#F23645"}}},
{"data":{"name":"candles"},"mark":{"type":"bar","size":4},"encoding":{"y":{"field":"o","type":"quantitative","axis":null},"y2":{"field":"c"},"color":{"condition":{"test":"datum.c>=datum.o","value":"#089981"},"value":"#F23645"}}},
{"data":{"values":[{"d":-1.43,"d2":83.3,"p":0.7749},{"d":-1.43,"d2":83.3,"p":0.6705}]},"mark":{"type":"rule","stroke":"#2962FF","strokeWidth":2.2},"encoding":{"x2":{"field":"d2"}}},
{"data":{"values":[{"d":-1.43,"d2":83.3,"p":0.6908}]},"mark":{"type":"rule","stroke":"#F0443E","strokeWidth":2},"encoding":{"x2":{"field":"d2"}}},
{"data":{"values":[{"d":-2.47,"d2":106.34,"p":0.854,"p2":0.7216},{"d":-2.47,"d2":95.12,"p":0.6663,"p2":0.637}]},"mark":{"type":"rule","stroke":"#000000","strokeWidth":2.2},"encoding":{"x2":{"field":"d2"},"y2":{"field":"p2"}}},
{"data":{"values":[{"d":-2.47,"p":0.8037},{"d":9.02,"p":0.6674},{"d":18,"p":0.803},{"d":31.04,"p":0.6708},{"d":49.04,"p":0.7835},{"d":72.07,"p":0.6739},{"d":79.07,"p":0.8252},{"d":88.07,"p":0.7652},{"d":96.13,"p":0.8759},{"d":100.09,"p":0.8508},{"d":103.16,"p":0.9008}]},"mark":{"type":"line","stroke":"#2A2E39","strokeWidth":1.2}},
{"data":{"values":[{"d":102.76,"d2":103.16,"p":0.9,"p2":0.9008},{"d":103.29,"d2":103.16,"p":0.8977,"p2":0.9008}]},"mark":{"type":"rule","stroke":"#2A2E39","strokeWidth":1.2},"encoding":{"x2":{"field":"d2"},"y2":{"field":"p2"}}},
{"data":{"values":[{"d":-2.47,"d2":86.13,"p":0.6325,"p2":0.6323},{"d":85.47,"d2":86.13,"p":0.6373,"p2":0.6323},{"d":85.47,"d2":86.13,"p":0.6276,"p2":0.6323}]},"mark":{"type":"rule","stroke":"#2B8CE6","strokeWidth":2},"encoding":{"x2":{"field":"d2"},"y2":{"field":"p2"}}},
{"data":{"values":[{"d":36.79,"d2":42.35,"p":0.6599,"p2":0.639}]},"mark":{"type":"rect","fill":"#2F8FE6","cornerRadius":3},"encoding":{"x2":{"field":"d2"},"y2":{"field":"p2"}}},
{"data":{"values":[{"d":39.57,"p":0.6546,"t":"558 bars, 93d"},{"d":39.57,"p":0.6453,"t":"Vol 3.35 B"}]},"mark":{"type":"text","fontSize":12,"color":"#131722","align":"center"},"encoding":{"text":{"field":"t"}}},
{"data":{"values":[{"d":62.64,"d2":105.7,"p":0.6277,"p2":0.6074}]},"mark":{"type":"rect","fill":"#FFFBE2"},"encoding":{"x2":{"field":"d2"},"y2":{"field":"p2"}}},
{"data":{"values":[{"d":84.1,"p":0.6175,"t":"Educational only — not a signal. Leverage  = high risk."}]},"mark":{"type":"text","font":"DejaVu Sans","fontSize":17.9,"color":"#131722","align":"center"},"encoding":{"text":{"field":"t"}}},
{"data":{"values":[{"d":83.28,"p":0.6085}]},"mark":{"type":"point","shape":"circle","size":300,"filled":false,"stroke":"#9C27B0","strokeWidth":1.5,"opacity":1}},
{"data":{"values":[{"d":83.28,"p":0.6085,"t":"⚡"}]},"mark":{"type":"text","font":"DejaVu Sans","fontSize":12,"color":"#9C27B0","align":"center"},"encoding":{"text":{"field":"t"}}},
{"data":{"values":[{"d":106.4,"d2":109.46,"p":0.8181,"p2":0.8103}]},"mark":{"type":"rect","fill":"#50535E"},"encoding":{"x2":{"field":"d2"},"y2":{"field":"p2"}}},
{"data":{"values":[{"d":106.4,"d2":110.14,"p":0.7894,"p2":0.7752}]},"mark":{"type":"rect","fill":"#F23645"},"encoding":{"x2":{"field":"d2"},"y2":{"field":"p2"}}},
{"data":{"values":[{"d":106.85,"p":0.8142,"t":"0.8142"},{"d":106.85,"p":0.7855,"t":"0.7858"}]},"mark":{"type":"text","fontSize":12.5,"fontWeight":700,"color":"#ffffff","align":"left"},"encoding":{"text":{"field":"t"}}},
{"data":{"values":[{"d":106.85,"p":0.7791,"t":"02:50:02"}]},"mark":{"type":"text","fontSize":12.5,"color":"#FFD9DC","align":"left"},"encoding":{"text":{"field":"t"}}},
{"data":{"values":[{"d":106.6,"d2":109.77,"p":1.0139,"p2":1.0027}]},"mark":{"type":"rect","fill":"#ffffff","stroke":"#E0E3EB","cornerRadius":4},"encoding":{"x2":{"field":"d2"},"y2":{"field":"p2"}}},
{"data":{"values":[{"d":108.15,"p":1.0083,"t":"USDT"}]},"mark":{"type":"text","fontSize":11.5,"color":"#131722","align":"center"},"encoding":{"text":{"field":"t"}}},
{"data":{"values":[{"d":-2.49,"p":1.0218,"t":"Cryptojobs created with TradingView.com, Aug 23, 2026 07:09 UTC+2"}]},"mark":{"type":"text","fontSize":12.1,"color":"#131722","align":"left"},"encoding":{"text":{"field":"t"}}},
{"data":{"values":[{"d":-2,"p":1.0094,"t":"SUI / TetherUS · 4h · Binance"},{"d":-2,"p":1.0013,"t":"Watermark"},{"d":8.21,"p":1.0094,"t":"O"},{"d":11.39,"p":1.0094,"t":"H"},{"d":14.56,"p":1.0094,"t":"L"},{"d":17.67,"p":1.0094,"t":"C"}]},"mark":{"type":"text","fontSize":12.5,"color":"#131722","align":"left"},"encoding":{"text":{"field":"t"}}},
{"data":{"values":[{"d":8.71,"p":1.0094,"t":"0.7927"},{"d":11.89,"p":1.0094,"t":"0.7990"},{"d":14.97,"p":1.0094,"t":"0.7819"},{"d":18.11,"p":1.0094,"t":"0.7858"},{"d":20.75,"p":1.0094,"t":"−0.0070 (−0.88%)"}]},"mark":{"type":"text","fontSize":12.5,"color":"#F23645","align":"left"},"encoding":{"text":{"field":"t"}}},
{"data":{"values":[{"d":-1.43,"p":0.5754}]},"mark":{"type":"point","filled":true,"opacity":1,"fill":"#000000","stroke":null,"size":841,"shape":"M-1,-.5 L-.28,-.5 L-.28,.5 L-.62,.5 L-.62,-.08 L-1,-.08 Z M-.2,-.47 L.14,-.47 L.14,-.13 L-.2,-.13 Z M.4,-.5 L1,-.5 L.55,.5 L.02,.5 Z"}},
{"data":{"values":[{"d":-0.06,"p":0.5754,"t":"TradingView"}]},"mark":{"type":"text","font":"Inter","fontSize":19.5,"fontWeight":700,"color":"#000000","align":"left"},"encoding":{"text":{"field":"t"}}},
{"data":{"values":[{"d":99.13,"p":0.5731,"t":"❖"}]},"mark":{"type":"text","font":"DejaVu Sans","fontSize":28,"color":"#D9D9D9","align":"center"},"encoding":{"text":{"field":"t"}}},
{"data":{"values":[{"d":100.44,"p":0.5731,"t":"@ CryptoJobs3"}]},"mark":{"type":"text","fontSize":24,"color":"#CFCFCF","align":"left"},"encoding":{"text":{"field":"t"}}}
]},
{"data":{"values":[{"d":0,"p":0.7}]},"mark":{"type":"point","opacity":0},"encoding":{
"x":{"field":"d","type":"quantitative","scale":{"domain":[-3.111,111.07],"nice":false,"zero":false,"padding":0},"axis":{"orient":"bottom","offset":-81,"title":null,"grid":false,"domain":false,"ticks":false,"labelPadding":0,"labelFont":"Lato","labelFontSize":12.5,"labelColor":"#131722","labelOverlap":false,"zindex":1,"values":[0,4,8,12,16,20,24,30,34,38,42,46,50,54,61,65,69,73,77,81,85,92,96,100,104],"labelExpr":"datum.value==0?'Jun':datum.value==30?'Jul':datum.value==61?'Aug':datum.value==92?'Sep':datum.value<30?datum.value+1:datum.value<61?datum.value-29:datum.value<92?datum.value-60:datum.value-91"}},
"y":{"field":"p","type":"quantitative","scale":{"domain":[0.56143,1.02885],"nice":false,"zero":false},"axis":{"orient":"right","offset":-67,"title":null,"grid":false,"domain":false,"ticks":false,"labelPadding":0,"labelFont":"Lato","labelFontSize":12.5,"labelColor":"#131722","labelOverlap":false,"zindex":1,"values":[0.62,0.64,0.66,0.68,0.7,0.72,0.74,0.76,0.8,0.82,0.84,0.86,0.88,0.9,0.92,0.94,0.96,0.98],"labelExpr":"format(datum.value,'.4f')"}}
}}
]
}
